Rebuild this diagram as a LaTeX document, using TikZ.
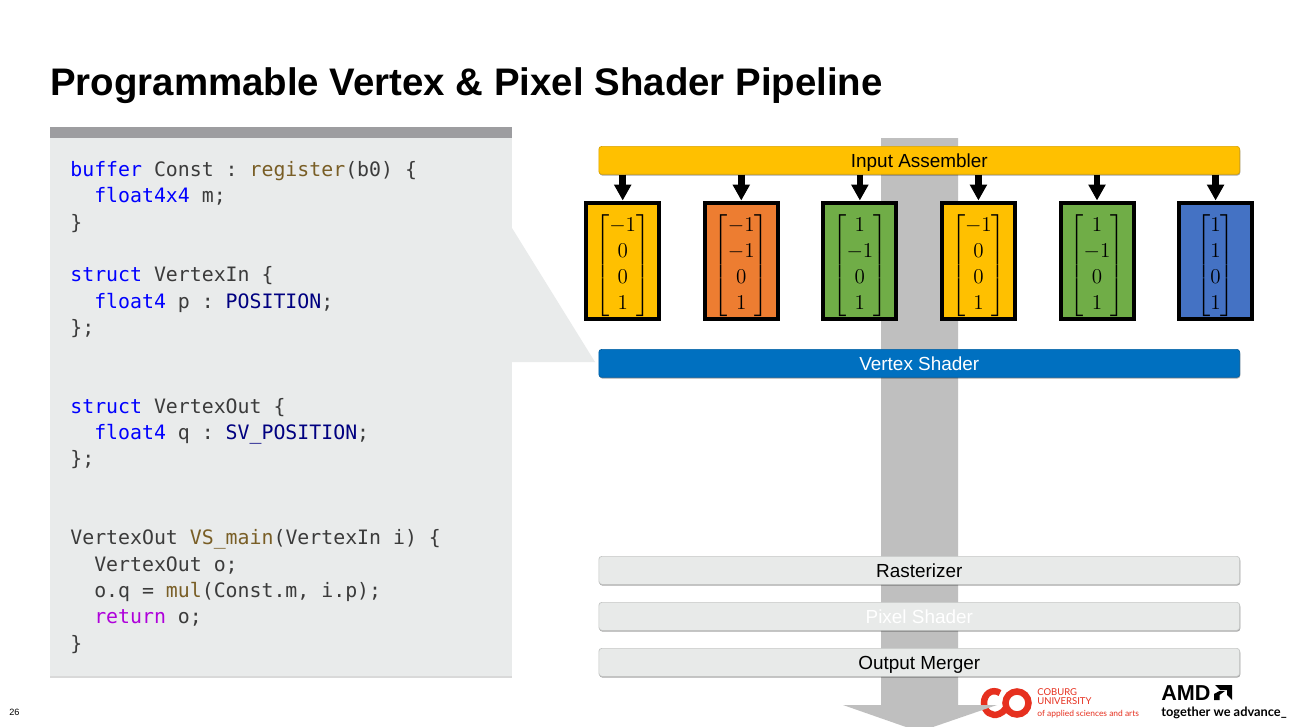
\documentclass[tikz,border=0pt]{standalone}
\usepackage{amsmath}
\usepackage{fontspec}
\setmainfont{Liberation Sans}
\setmonofont{DejaVu Sans Mono}
\newfontfamily\logofont{Lato}
\usepackage{xcolor}
\usetikzlibrary{arrows.meta,positioning,shadows}
\definecolor{cwYellow}{HTML}{FFC000}
\definecolor{cwOrange}{HTML}{ED7D31}
\definecolor{cwGreen}{HTML}{70AD47}
\definecolor{cwBlue}{HTML}{4472C4}
\definecolor{cwShader}{HTML}{0070C0}
\definecolor{cwPanel}{HTML}{E9EBEB}
\definecolor{cwPanelTop}{HTML}{9D9DA0}
\definecolor{cwFlow}{HTML}{BFBFBF}
\definecolor{cwStage}{HTML}{E8EAE9}
\definecolor{cwLogo}{HTML}{E6301F}
\definecolor{codeKey}{HTML}{0000FF}
\definecolor{codeType}{HTML}{000080}
\definecolor{codeFun}{HTML}{795E26}
\definecolor{codeRet}{HTML}{AF00DB}
\definecolor{codeText}{HTML}{3B3B3B}
\newcommand{\vertexvec}[4]{\raisebox{-5.6pt}[30pt][30pt]{\(\begin{bmatrix}#1\\#2\\#3\\#4\end{bmatrix}\)}}
\newcommand{\codeind}{\phantom{xx}}
\begin{document}
\begin{tikzpicture}[x=0.02cm,y=-0.02cm,font=\fontsize{10.77}{13}\selectfont,>=Latex,
    stage/.style={draw=#1!85!black,fill=#1,rounded corners=0.06cm,minimum width=12.82cm,minimum height=0.56cm,inner sep=0pt,line width=0.4pt,
      text height=7.7pt,text depth=0pt,
      drop shadow={shadow xshift=0.3pt,shadow yshift=-0.7pt,opacity=0.35,fill=black}},
    vecbox/.style={draw=black,line width=0.08cm,fill=#1,minimum width=1.46cm,minimum height=2.34cm,inner sep=0pt,
      font=\fontsize{12.6}{14.8}\selectfont},
    feed/.style={-{Triangle[length=0.32cm,width=0.33cm]},line width=0.13cm,black}
]
  \useasboundingbox (0,0) rectangle (1299,727);
  \fill[white] (0,0) rectangle (1299,727);

  % Title and page number
  \node[anchor=base west,inner sep=0pt,font=\fontsize{21.86}{26}\selectfont\bfseries] (title) at (50,95) {Programmable Vertex \& Pixel Shader Pipeline};
  \node[anchor=base west,inner sep=0pt,font=\fontsize{5.2}{6}\selectfont] (pagenum) at (9,715) {26};

  % Code panel with the wedge towards the vertex shader
  \fill[cwPanel] (50,138) rectangle (512,677);
  \fill[cwPanel] (512,228) -- (595,362) -- (512,362) -- cycle;
  \fill[cwPanelTop] (50,127) rectangle (512,138);
  \fill[black!15] (50,676) rectangle (512,678);

  \node[anchor=base west,inner sep=0pt,align=left,text=codeText,font=\fontsize{11.3}{14.97}\ttfamily] (code) at (70,650) {%
    \textcolor{codeKey}{buffer} Const : \textcolor{codeFun}{register}(b0) \{\\
    \codeind\textcolor{codeKey}{float4x4} m;\\
    \}\\
    \mbox{}\\
    \textcolor{codeKey}{struct} VertexIn \{\\
    \codeind\textcolor{codeKey}{float4} p : \textcolor{codeType}{POSITION};\\
    \};\\
    \mbox{}\\
    \mbox{}\\
    \textcolor{codeKey}{struct} VertexOut \{\\
    \codeind\textcolor{codeKey}{float4} q : \textcolor{codeType}{SV\_POSITION};\\
    \};\\
    \mbox{}\\
    \mbox{}\\
    VertexOut \textcolor{codeFun}{VS\_main}(VertexIn i) \{\\
    \codeind VertexOut o;\\
    \codeind o.q = \textcolor{codeFun}{mul}(Const.m, i.p);\\
    \codeind\textcolor{codeRet}{return} o;\\
    \}};

  % Logos
  \draw[cwLogo,line width=0.13cm] (1017,703) circle (11.5);
  \draw[cwLogo,line width=0.13cm] (1000,693) .. controls (992,688) and (984,694) .. (984,703) .. controls (984,712) and (992,717) .. (999,714) .. controls (1002,713) and (1004,711) .. (1006,708);
  \node[anchor=base west,inner sep=0pt,text=cwLogo,font=\logofont\fontsize{5.4}{6}\selectfont] (cobA) at (1037,695) {COBURG};
  \node[anchor=base west,inner sep=0pt,text=cwLogo,font=\logofont\fontsize{5.4}{6}\selectfont] (cobB) at (1037,704) {UNIVERSITY};
  \node[anchor=base west,inner sep=0pt,text=cwLogo,font=\logofont\fontsize{4.8}{6}\selectfont] (cobC) at (1037,716) {of applied sciences and arts};
  \node[anchor=base west,inner sep=0pt,font=\fontsize{12.3}{13}\selectfont\bfseries] (amd) at (1161,700) {AMD};
  \fill (1215,685) -- (1232,685) -- (1232,700) -- (1227,695) -- (1227,690) -- (1220,690) -- cycle;
  \fill (1214,700) -- (1214,694) -- (1219.5,691) -- (1225,691) -- (1219.5,695) -- (1219.5,700) -- cycle;
  \node[anchor=base west,inner sep=0pt,font=\logofont\fontsize{7.3}{9}\selectfont\bfseries] (slogan) at (1161,716.5) {together we advance\_};

  % Big flow arrow behind the stages
  \fill[cwFlow] (881,138) -- (958,138) -- (958,705) -- (997,705) -- (933,727) -- (906,727) -- (843,705) -- (881,705) -- cycle;

  % Pipeline stages
  \node[stage=cwYellow,anchor=north west] (assembler) at (598.5,146) {Input Assembler};
  \node[stage=cwShader,anchor=north west,text=white] (vshader) at (598.5,349) {Vertex Shader};
  \node[stage=cwStage,anchor=north west] (raster) at (598.5,556) {Rasterizer};
  \node[stage=cwStage,anchor=north west,text=white] (pshader) at (598.5,602) {Pixel Shader};
  \node[stage=cwStage,anchor=north west] (merger) at (598.5,648) {Output Merger};

  % Vertices
  \node[vecbox=cwYellow] (vecA) at (622.7,261) {\vertexvec{-1}{0}{0}{1}};
  \node[vecbox=cwOrange,right=0.832cm of vecA] (vecB) {\vertexvec{-1}{-1}{0}{1}};
  \node[vecbox=cwGreen,right=0.832cm of vecB] (vecC) {\vertexvec{1}{-1}{0}{1}};
  \node[vecbox=cwYellow,right=0.832cm of vecC] (vecD) {\vertexvec{-1}{0}{0}{1}};
  \node[vecbox=cwGreen,right=0.832cm of vecD] (vecE) {\vertexvec{1}{-1}{0}{1}};
  \node[vecbox=cwBlue,right=0.832cm of vecE] (vecF) {\vertexvec{1}{1}{0}{1}};

  \foreach \v in {vecA,vecB,vecC,vecD,vecE,vecF}
    \draw[feed] (assembler.south -| \v.north) -- (\v.north);
\end{tikzpicture}
\end{document}
